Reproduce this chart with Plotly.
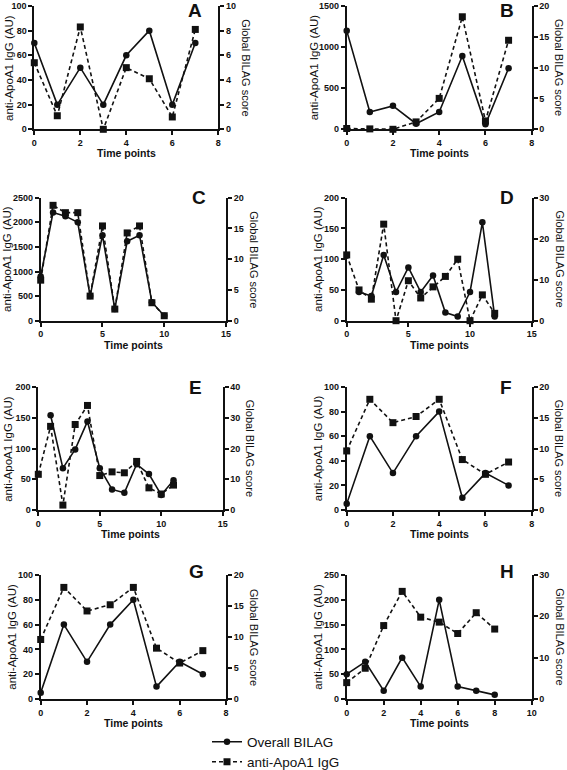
import plotly.graph_objects as go

W, H = 567, 770

# ---------------- data ----------------
panel_letters = ["A", "B", "C", "D", "E", "F", "G", "H"]

A_bilag = [7, 2, 5, 2, 6, 8, 2, 7]
A_igg = [54, 11, 83, 0, 50, 41, 10, 81]

B_bilag = [16, 2.8, 3.8, 0.9, 2.8, 11.9, 0.8, 9.9]
B_igg = [10, 5, 0, 90, 376, 1369, 102, 1083]

C_bilag = [7.2, 17.6, 17, 16, 4, 13.9, 1.9, 12.9, 13.9, 3, 0.8]
C_igg = [824, 2345, 2196, 2196, 500, 1926, 236, 1784, 1926, 365, 101]

D_bilag = [None, 7, 6, 16, 7, 13, 7, 11, 2, 1, 7, 24, 1]
D_igg = [107, 50, 35, 157, 0, 65, 37, 55, 72, 100, 0, 42, 12]

E_bilag = [None, 30.8, 13.6, 19.7, 28.8, 13.6, 6.7, 5.6, 14.9, 11.7, 4.9, 9.7]
E_igg = [58, 136, 8, 139, 170, 56, 62, 60.5, 79, 36, 26, 40.5]

F_bilag = [1, 12, 6, 12, 16, 2, 6, 4]
F_igg = [48, 90, 71, 76, 90, 41, 29, 39]

G_bilag = [1, 12, 6, 12, 16, 2, 6, 4]
G_igg = [48, 90, 71, 76, 90, 41, 29, 39]

H_bilag = [6, 9, 2, 10, 3, 24, 3, 2, 1]
H_igg = [33, 62, 148, 217, 165, 155, 132, 174, 141]

bilag_series = [A_bilag, B_bilag, C_bilag, D_bilag, E_bilag, F_bilag, G_bilag, H_bilag]
igg_series = [A_igg, B_igg, C_igg, D_igg, E_igg, F_igg, G_igg, H_igg]

x_max = [8, 8, 15, 15, 15, 8, 8, 10]
x_dtick = [2, 2, 5, 5, 5, 2, 2, 2]
left_max = [100, 1500, 2500, 200, 200, 100, 100, 250]
left_dtick = [20, 500, 500, 50, 50, 20, 20, 50]
right_max = [10, 20, 20, 30, 40, 20, 20, 30]
right_dtick = [2, 5, 5, 10, 10, 5, 5, 10]

left_title = "anti-ApoA1 IgG (AU)"
right_title = "Global BILAG score"
x_title = "Time points"
legend_names = ["Overall BILAG", "anti-ApoA1 IgG"]

# ---------------- layout geometry (pixels) ----------------
# (left axis x, right axis x, top y, bottom y)
boxes = [
    (34.3, 218.3, 6, 129.3),
    (346.7, 531.7, 6, 129.3),
    (40.7, 226, 197.7, 320.7),
    (346.7, 531.7, 197.7, 320.7),
    (38.3, 222.7, 387, 510),
    (346.7, 531.7, 387, 510),
    (40.7, 226, 575, 699),
    (346.7, 531.7, 575, 699),
]
left_title_off = [26, 33, 33, 29, 31, 29, 29, 29]
letter_pos = [(195, 10), (507, 10), (199, 198), (507, 198),
              (195, 387), (506, 387), (196, 571), (507, 571)]

FONT = "Liberation Sans, Arial, sans-serif"
INK = "#111111"

fig = go.Figure()
layout = dict(
    width=W, height=H,
    margin=dict(l=0, r=0, t=0, b=0, autoexpand=False),
    paper_bgcolor="white", plot_bgcolor="white",
    font=dict(family=FONT, color=INK),
    annotations=[],
)

tick_font = dict(family=FONT, size=9, color=INK, weight="bold")

for i in range(8):
    k = i + 1
    xl, xr, yt, yb = boxes[i]
    xd = [xl / W, xr / W]
    yd = [1 - yb / H, 1 - yt / H]
    xname = "xaxis" if k == 1 else f"xaxis{k}"
    yname = "yaxis" if k == 1 else f"yaxis{k}"
    y2k = k + 8
    y2name = f"yaxis{y2k}"
    xref = "x" if k == 1 else f"x{k}"
    yref = "y" if k == 1 else f"y{k}"
    y2ref = f"y{y2k}"

    common = dict(
        showgrid=False, zeroline=False, showline=True, linecolor=INK, linewidth=1.7,
        ticks="outside", ticklen=4, tickwidth=1.5, tickcolor=INK, tickfont=tick_font,
        automargin=False,
    )
    layout[xname] = dict(domain=xd, anchor=yref, range=[0, x_max[i]],
                         dtick=x_dtick[i], tick0=0, **common)
    layout[yname] = dict(domain=yd, anchor=xref, range=[0, left_max[i]],
                         dtick=left_dtick[i], tick0=0, **common)
    layout[y2name] = dict(domain=yd, anchor=xref, overlaying=yref, side="right",
                          range=[0, right_max[i]], dtick=right_dtick[i], tick0=0,
                          **common)

    t_b = list(range(len(bilag_series[i])))
    t_g = list(range(len(igg_series[i])))

    fig.add_trace(go.Scatter(
        x=t_g, y=igg_series[i], xaxis=xref, yaxis=yref,
        mode="lines+markers", name=legend_names[1], showlegend=(k == 1),
        legend="legend2", cliponaxis=False,
        line=dict(color=INK, width=1.6, dash="4px,3px"),
        marker=dict(symbol="square", size=7, color=INK),
    ))
    fig.add_trace(go.Scatter(
        x=t_b, y=bilag_series[i], xaxis=xref, yaxis=y2ref,
        mode="lines+markers", name=legend_names[0], showlegend=(k == 1),
        legend="legend", cliponaxis=False,
        line=dict(color=INK, width=1.6),
        marker=dict(symbol="circle", size=6.5, color=INK),
    ))

    ann = layout["annotations"]
    # x title
    ann.append(dict(text=x_title, xref="paper", yref="paper",
                    x=((xl + xr) / 2) / W, y=1 - (yb + 24) / H,
                    xanchor="center", yanchor="middle", showarrow=False,
                    font=dict(size=10.5, family=FONT, color=INK, weight="bold")))
    # left title
    ann.append(dict(text=left_title, xref="paper", yref="paper",
                    x=(xl - left_title_off[i]) / W, y=1 - ((yt + yb) / 2) / H,
                    xanchor="center", yanchor="middle", showarrow=False, textangle=-90,
                    font=dict(size=11.5, family=FONT, color=INK)))
    # right title
    ann.append(dict(text=right_title, xref="paper", yref="paper",
                    x=(xr + 28) / W, y=1 - ((yt + yb) / 2) / H,
                    xanchor="center", yanchor="middle", showarrow=False, textangle=90,
                    font=dict(size=11, family=FONT, color=INK)))
    # panel letter
    lx, ly = letter_pos[i]
    ann.append(dict(text=panel_letters[i], xref="paper", yref="paper",
                    x=lx / W, y=1 - ly / H, xanchor="center", yanchor="middle",
                    showarrow=False,
                    font=dict(size=19, family=FONT, color=INK, weight="bold")))

legend_style = dict(
    xanchor="left", yanchor="middle",
    font=dict(size=13.5, family=FONT, color=INK),
    bgcolor="rgba(0,0,0,0)", itemwidth=30,
)
layout["legend"] = dict(x=207 / W, y=1 - 742 / H, **legend_style)
layout["legend2"] = dict(x=207 / W, y=1 - 762 / H, **legend_style)
layout["showlegend"] = True

fig.update_layout(**layout)
fig.write_html(
    "out.html",
    config={"displayModeBar": False},
    post_script="document.body.style.margin='0';document.body.style.overflow='hidden';",
)
